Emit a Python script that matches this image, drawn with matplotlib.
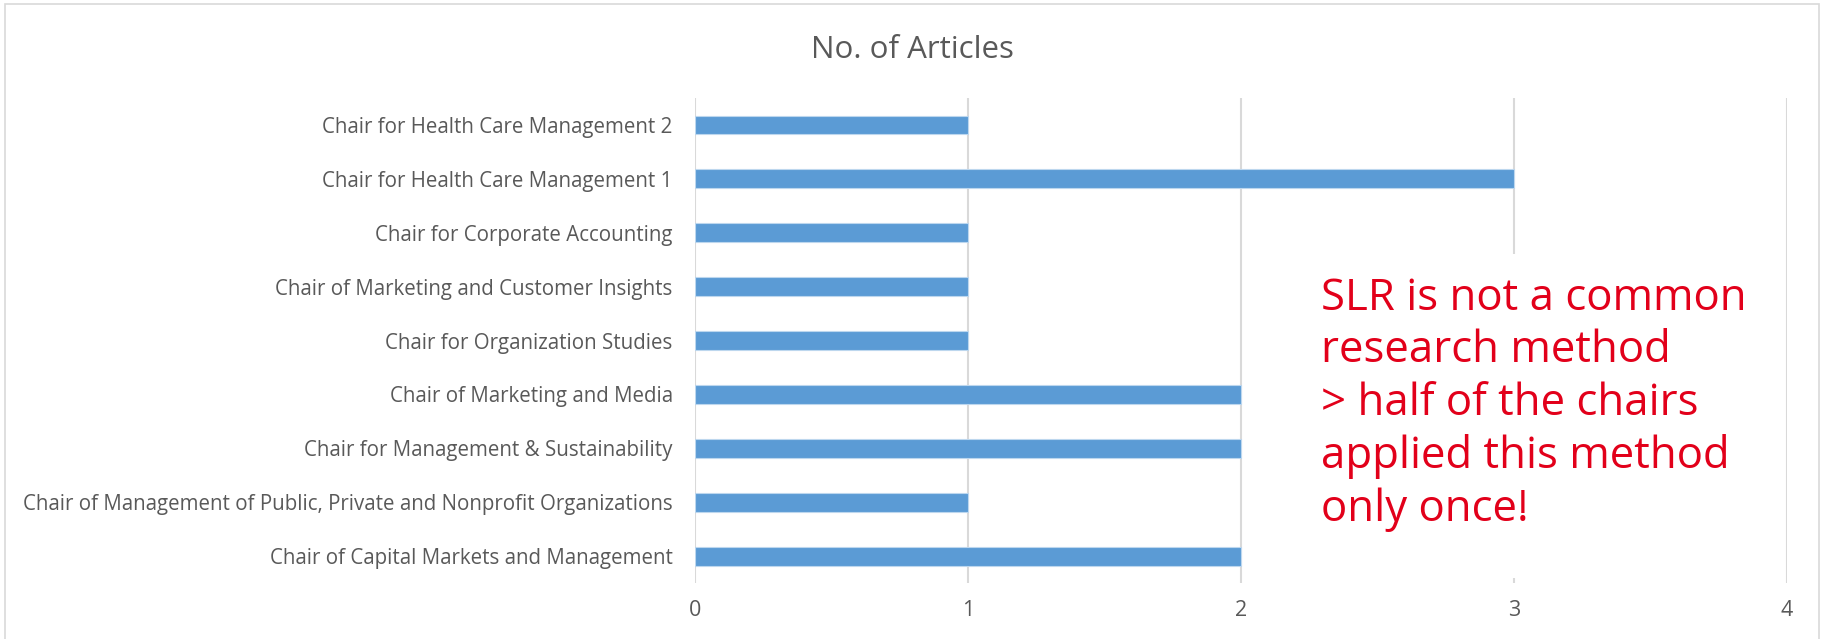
import matplotlib
matplotlib.use("Agg")
import matplotlib.pyplot as plt
from matplotlib.patches import Rectangle

# data, listed bottom to top like the Excel source
chairs = [
    "Chair of Capital Markets and Management",
    "Chair of Management of Public, Private and Nonprofit Organizations",
    "Chair for Management & Sustainability",
    "Chair of Marketing and Media",
    "Chair for Organization Studies",
    "Chair of Marketing and Customer Insights",
    "Chair for Corporate Accounting",
    "Chair for Health Care Management 1",
    "Chair for Health Care Management 2",
]
articles = [2, 1, 2, 2, 1, 1, 1, 3, 1]
x_ticks = [0, 1, 2, 3, 4]

title = "No. of Articles"
note = ("SLR is not a common\nresearch method\n> half of the chairs\n"
        "applied this method\nonly once!")

FONT = ["Open Sans", "DejaVu Sans"]
GREY_TXT = "#595959"
GRID = "#D9D9D9"
BAR = "#5B9BD5"
RED = "#E2001A"

plt.rcParams["font.family"] = FONT

fig = plt.figure(figsize=(18.25, 6.39), dpi=100)
ax = fig.add_axes([0.3808, 0.0876, 0.5984, 0.759])

ax.barh(range(len(chairs)), articles, height=0.35, color=BAR,
        edgecolor="#BDD7EE", linewidth=0.8, zorder=3)

ax.set_xlim(0, 4)
ax.set_ylim(-0.5, len(chairs) - 0.5)
ax.set_xticks(x_ticks)
ax.set_yticks(range(len(chairs)))
ax.set_yticklabels(chairs)
ax.tick_params(axis="y", length=0, pad=16, labelsize=14.8, labelcolor=GREY_TXT)
ax.tick_params(axis="x", length=0, pad=12, labelsize=15.5, labelcolor=GREY_TXT)

for s in ax.spines.values():
    s.set_visible(False)
ax.grid(axis="x", color=GRID, linewidth=1.5, zorder=0)
ax.grid(axis="y", visible=False)

fig.text(0.5, 0.922, title, ha="center", va="center", fontsize=22.5,
         color=GREY_TXT)

# white box behind the note hides the gridline
fig.add_artist(Rectangle((0.718, 0.0955), 0.252, 0.507,
                         transform=fig.transFigure, facecolor="white",
                         edgecolor="none", zorder=5))
fig.text(0.7238, 0.568, note, ha="left", va="top", fontsize=31.5,
         color=RED, linespacing=1.245, zorder=6)

# chart frame
fig.add_artist(Rectangle((0.0027, -0.1), 0.994, 1.0945,
                         transform=fig.transFigure, facecolor="none",
                         edgecolor=GRID, linewidth=1.2, zorder=1))

fig.savefig("out.png", dpi=100)
